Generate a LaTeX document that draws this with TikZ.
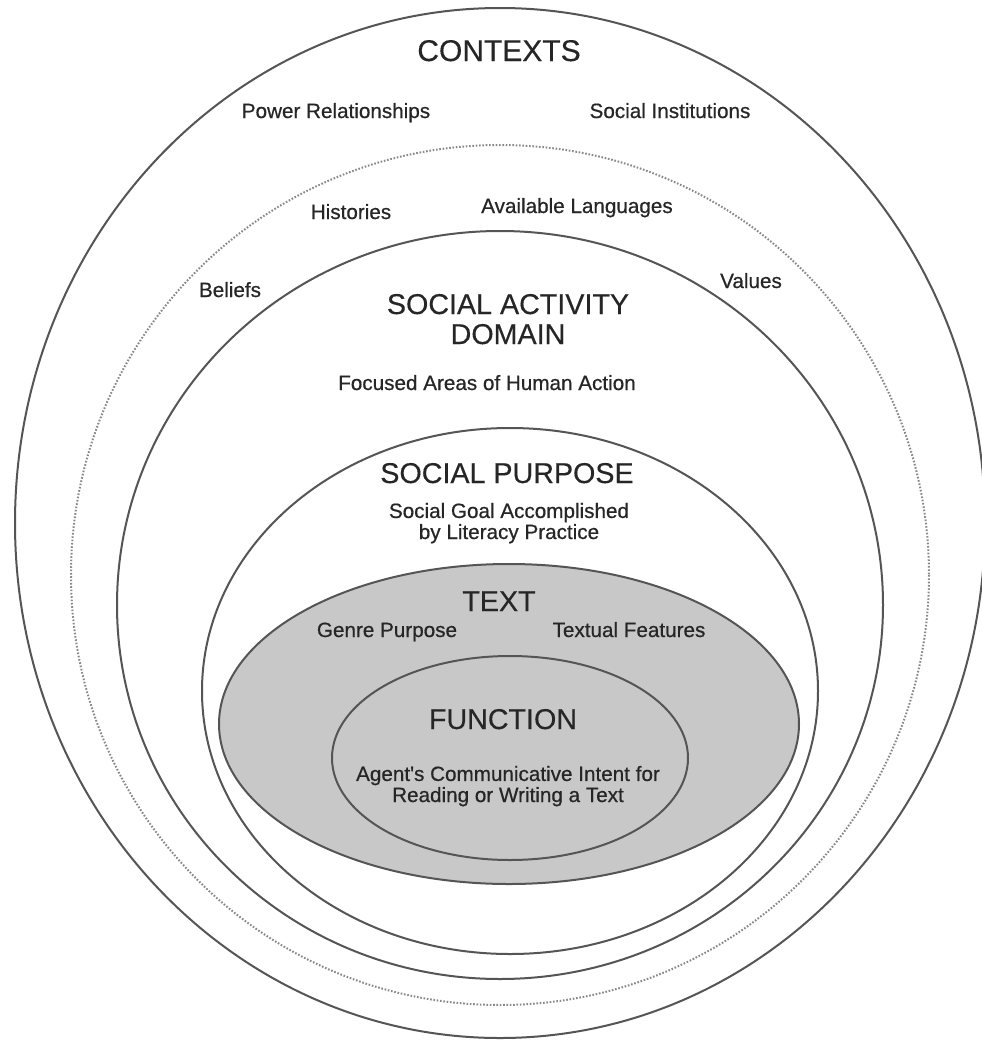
\documentclass[tikz,border=0pt]{standalone}
\usepackage{fontspec}
\setmainfont{Liberation Sans}
\newfontfamily\labfont[FakeBold=0.6]{Liberation Sans}
\newfontfamily\headfont[FakeBold=0.3]{Liberation Sans}
\definecolor{linegray}{HTML}{555555}
\definecolor{dotgray}{HTML}{888888}
\definecolor{txt}{HTML}{262626}
\definecolor{fillgray}{HTML}{C8C8C8}
\begin{document}
\begin{tikzpicture}[x=0.75pt,y=-0.75pt,
  ring/.style={draw=linegray,line width=1.5pt},
  dotring/.style={draw=dotgray,line width=1.5pt,dash pattern=on 1.2pt off 1.3pt},
  head/.style={font=\headfont\fontsize{21.5}{22.5}\selectfont,text=txt,align=center,inner sep=0pt,anchor=base},
  lab/.style={font=\labfont\fontsize{15.5}{15.8}\selectfont,text=txt,align=center,inner sep=0pt,anchor=base}]
\fill[white] (0,0) rectangle (982,1040);
\useasboundingbox (0,0) rectangle (982,1040);
% rings
\draw[ring] (500,523) ellipse [x radius=485, y radius=515];
\draw[dotring] (500,575) ellipse [x radius=429, y radius=430];
\draw[ring] (500,605) ellipse [x radius=383, y radius=374];
\draw[ring] (510,691) ellipse [x radius=308, y radius=263];
\draw[ring,fill=fillgray] (509,724) ellipse [x radius=290, y radius=160];
\draw[ring] (510,758) ellipse [x radius=178, y radius=102];
% texts (positions are baselines of the last line)
\node[head,font=\headfont\fontsize{22.5}{24}\selectfont] (contexts) at (499,61) {CONTEXTS};
\node[lab] (power) at (336,118) {Power Relationships};
\node[lab] (inst) at (670,118) {Social Institutions};
\node[lab] (hist) at (351,219) {Histories};
\node[lab] (lang) at (577,213) {Available Languages};
\node[lab] (beliefs) at (230,297) {Beliefs};
\node[lab] (values) at (751,288) {Values};
\node[head] (sad) at (508,344) {SOCIAL ACTIVITY\\DOMAIN};
\node[lab] (focus) at (487,390) {Focused Areas of Human Action};
\node[head] (sp) at (507,483) {SOCIAL PURPOSE};
\node[lab] (goal) at (509,539) {Social Goal Accomplished\\by Literacy Practice};
\node[head] (text) at (499,611) {TEXT};
\node[lab] (genre) at (387,637) {Genre Purpose};
\node[lab] (feat) at (629,637) {Textual Features};
\node[head] (func) at (503,729) {FUNCTION};
\node[lab] (agent) at (508,802) {Agent's Communicative Intent for\\Reading or Writing a Text};
\end{tikzpicture}
\end{document}
